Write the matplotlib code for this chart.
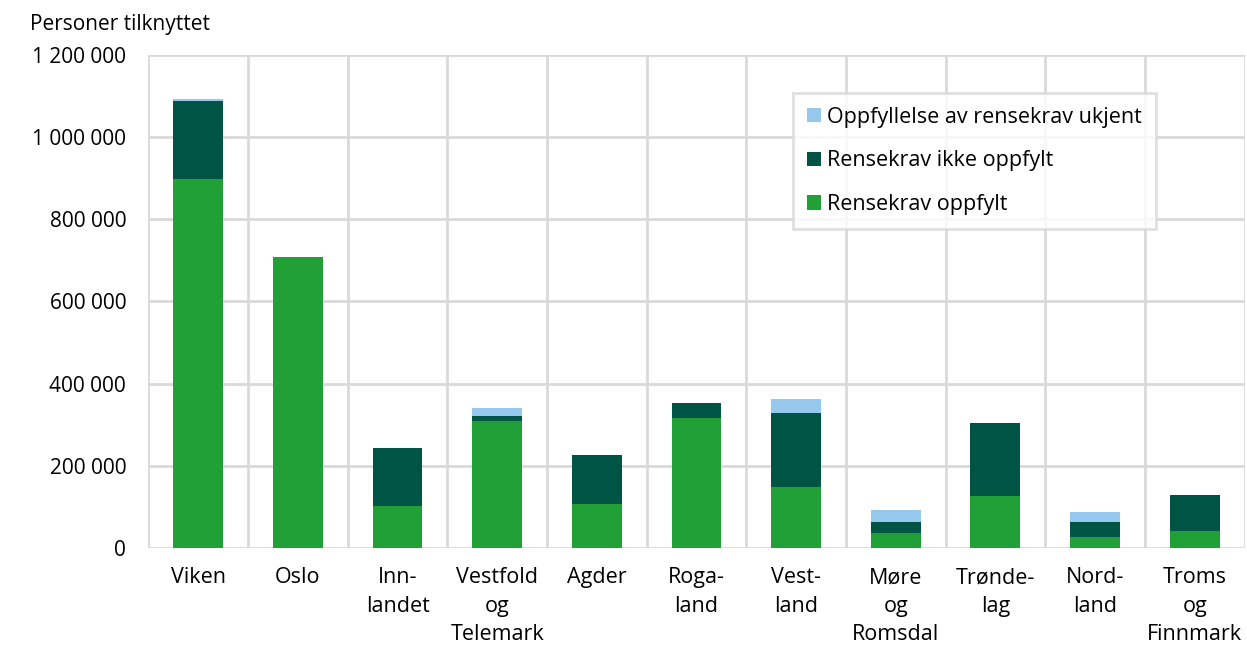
import numpy as np
import matplotlib.pyplot as plt
from matplotlib.ticker import FuncFormatter, FixedLocator

plt.rcParams['font.family'] = ['Open Sans', 'DejaVu Sans']

regions = ['Viken', 'Oslo', 'Inn-\nlandet', 'Vestfold\nog\nTelemark', 'Agder',
           'Roga-\nland', 'Vest-\nland', 'Møre\nog\nRomsdal', 'Trønde-\nlag',
           'Nord-\nland', 'Troms\nog\nFinnmark']
oppfylt = [898000, 708000, 102000, 309000, 107000, 316000, 148000, 36000, 127000, 27000, 41000]
ikke_oppfylt = [189000, 0, 141000, 12000, 119000, 37000, 180000, 27000, 177000, 36000, 88000]
ukjent = [5000, 0, 0, 20000, 0, 0, 34000, 29000, 0, 25000, 0]

c_ok = '#21a038'
c_not = '#005444'
c_unk = '#95c8ec'

fig, ax = plt.subplots(figsize=(12.47, 6.53), dpi=100)
fig.subplots_adjust(left=0.119, right=0.998, bottom=0.161, top=0.916)

x = np.arange(len(regions))
w = 0.5
b1 = ax.bar(x, oppfylt, w, color=c_ok, label='Rensekrav oppfylt', zorder=3)
b2 = ax.bar(x, ikke_oppfylt, w, bottom=oppfylt, color=c_not,
            label='Rensekrav ikke oppfylt', zorder=3)
bottom2 = np.array(oppfylt) + np.array(ikke_oppfylt)
b3 = ax.bar(x, ukjent, w, bottom=bottom2, color=c_unk,
            label='Oppfyllelse av rensekrav ukjent', zorder=3)

ax.set_xlim(-0.5, len(regions) - 0.5)
ax.set_ylim(0, 1200000)
ax.set_yticks(np.arange(0, 1200001, 200000))
ax.yaxis.set_major_formatter(FuncFormatter(lambda v, p: f'{int(v):,}'.replace(',', ' ')))
ax.set_xticks(x)
ax.set_xticklabels(regions, fontsize=15.5, linespacing=1.45)
ax.xaxis.set_minor_locator(FixedLocator(np.arange(-0.5, len(regions), 1.0)))
ax.tick_params(axis='y', labelsize=15, length=0, pad=16)
ax.tick_params(axis='x', which='both', length=0, pad=14)

ax.grid(True, axis='y', color='#d9d9d9', linewidth=2, zorder=0)
ax.grid(True, axis='x', which='minor', color='#d9d9d9', linewidth=2, zorder=0)
ax.grid(False, axis='x', which='major')
for s in ax.spines.values():
    s.set_visible(False)

fig.text(0.024, 0.962, 'Personer tilknyttet', fontsize=15, va='center', ha='left')

leg = ax.legend(handles=[b3, b2, b1], loc='upper left', bbox_to_anchor=(0.588, 0.923),
                fontsize=15.5, frameon=True, fancybox=False, edgecolor='#d9d9d9',
                handlelength=0.65, handleheight=0.65, handletextpad=0.3,
                labelspacing=1.05, borderpad=0.65, borderaxespad=0)
leg.get_frame().set_linewidth(2)

plt.savefig('out.png', dpi=100)
